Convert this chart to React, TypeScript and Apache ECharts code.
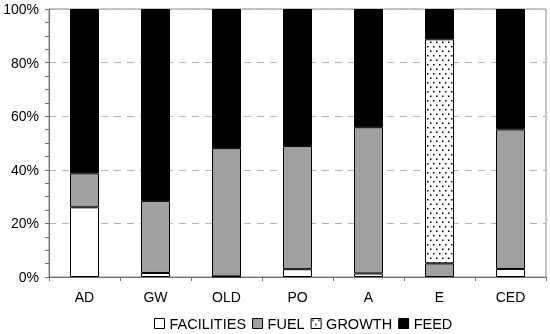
import React, { useEffect, useRef } from "react";
import * as echarts from "echarts";

const categories = ["AD", "GW", "OLD", "PO", "A", "E", "CED"];
const facilities = [26, 1.5, 0.2, 2.9, 1.3, null, 3];
const fuel = [12.7, 26.9, 47.9, 46, 54.6, 5.1, 52.1];
const growth = [null, null, null, null, null, 83.6, null];
const feed = [61.3, 71.6, 51.9, 51.1, 44.1, 11.3, 44.9];
const seriesNames = ["FACILITIES", "FUEL", "GROWTH", "FEED"];
const yTicks = [0, 20, 40, 60, 80, 100];

function makeDotPattern(): string {
  const c = document.createElement("canvas");
  c.width = 6;
  c.height = 9;
  const ctx = c.getContext("2d")!;
  ctx.fillStyle = "#ffffff";
  ctx.fillRect(0, 0, 6, 9);
  ctx.fillStyle = "#000000";
  ctx.fillRect(1, 1, 1.5, 1.5);
  ctx.fillRect(4, 5.5, 1.5, 1.5);
  return c.toDataURL();
}

export default function App() {
  const ref = useRef<HTMLDivElement>(null);
  useEffect(() => {
    document.body.style.margin = "0";
    const chart = echarts.init(ref.current!, null, { renderer: "svg" });
    const font = "'Liberation Sans', Arial, sans-serif";
    const dots = makeDotPattern();
    const border = { borderColor: "#000", borderWidth: 1 };
    const colors: any[] = [
      "#ffffff",
      "#a0a0a0",
      { image: dots, repeat: "repeat" },
      "#000000",
    ];
    const datas = [facilities, fuel, growth, feed];
    chart.setOption({
      animation: false,
      textStyle: { fontFamily: font },
      grid: {
        left: 49,
        top: 9,
        right: 4,
        bottom: 57,
        show: true,
        borderColor: "#8c8c8c",
        borderWidth: 1,
        backgroundColor: "transparent",
      },
      legend: {
        top: 311,
        left: 149,
        icon: "rect",
        itemWidth: 10,
        itemHeight: 10,
        itemGap: 6,
        data: seriesNames,
        textStyle: { fontSize: 14.5, color: "#000", fontFamily: font },
        itemStyle: { borderColor: "#000", borderWidth: 1 },
      },
      xAxis: {
        type: "category",
        data: categories,
        boundaryGap: true,
        axisLine: { lineStyle: { color: "#707070", width: 1 } },
        axisTick: { show: true, length: 4, alignWithLabel: false, lineStyle: { color: "#707070" } },
        axisLabel: { fontSize: 14, color: "#000", margin: 13, fontFamily: font },
      },
      yAxis: {
        type: "value",
        min: yTicks[0],
        max: yTicks[yTicks.length - 1],
        interval: 20,
        axisLine: { show: true, lineStyle: { color: "#707070", width: 1 } },
        axisTick: { show: true, length: 4, lineStyle: { color: "#707070" } },
        minorTick: { show: true, splitNumber: 4, length: 4, lineStyle: { color: "#707070" } },
        axisLabel: { fontSize: 14, color: "#000", margin: 10, formatter: "{value}%", fontFamily: font },
        splitLine: { show: true, lineStyle: { color: "#b4b4b4", type: [7, 6], width: 1 } },
      },
      series: seriesNames.map((name, i) => ({
        name,
        type: "bar",
        stack: "total",
        barWidth: 29,
        data: datas[i],
        itemStyle: { color: colors[i], ...border },
      })),
    });
    return () => chart.dispose();
  }, []);
  return (
    <div
      ref={ref}
      style={{ position: "fixed", left: 0, top: 0, width: 550, height: 334 }}
    />
  );
}
